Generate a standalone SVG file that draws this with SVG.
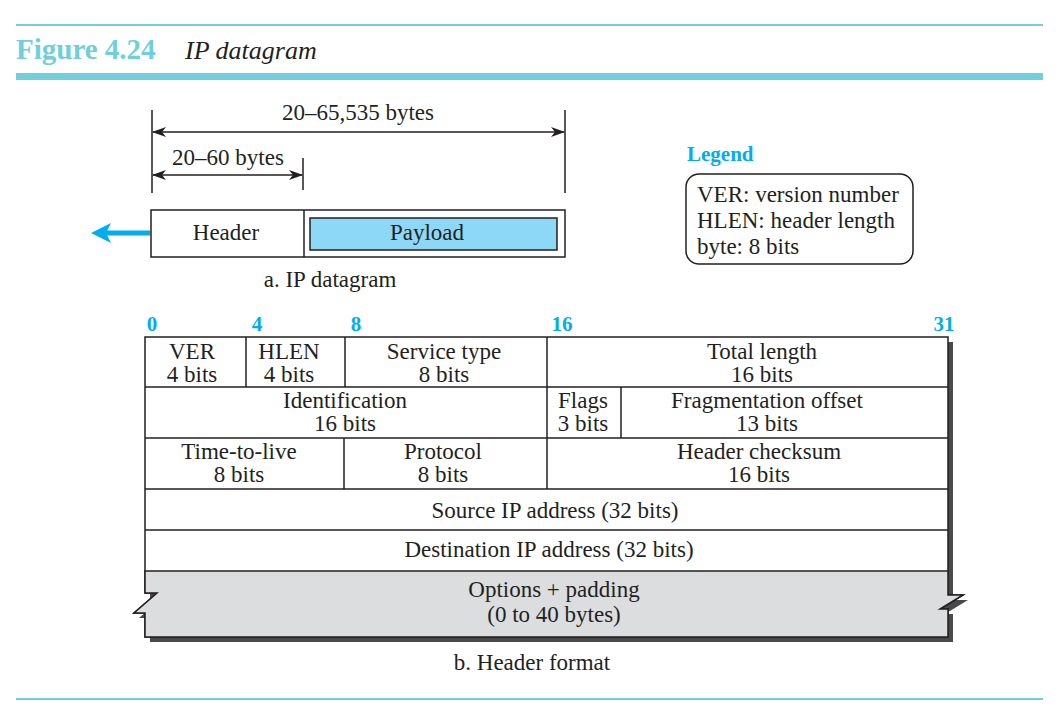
<svg xmlns="http://www.w3.org/2000/svg" width="1062" height="716" viewBox="0 0 1062 716">
<style>
text{font-family:"Liberation Serif","Times New Roman",serif;fill:#231f20;font-size:23px}
.c{text-anchor:middle}
.bit{font-weight:bold;fill:#00aeef;font-size:21px;text-anchor:middle}
.ln{stroke:#231f20;stroke-width:1.5;fill:none}
.w{fill:#fff}
.teal{fill:#6fcfda}
</style>
<defs>
<marker id="ah" viewBox="0 0 14 10" refX="13" refY="5" markerWidth="14" markerHeight="10" markerUnits="userSpaceOnUse" orient="auto-start-reverse">
<path d="M0,0 L14,5 L0,10 L4,5 Z" fill="#231f20"/>
</marker>
</defs>
<g id="frame">
<rect x="16" y="24" width="1027" height="2" class="teal"/>
<rect x="16" y="73" width="1027" height="7" class="teal"/>
<rect x="16" y="698" width="1027" height="2" class="teal"/>
<text x="16" y="59" style="font-weight:bold;font-size:29px;fill:#6fcfda">Figure 4.24</text>
<text x="185" y="59" style="font-style:italic;font-size:26px">IP datagram</text>
</g>
<g id="connectors">
<line class="ln" x1="152" y1="110" x2="152" y2="193"/>
<line class="ln" x1="303" y1="158" x2="303" y2="190"/>
<line class="ln" x1="565" y1="110" x2="565" y2="193"/>
<line class="ln" x1="153" y1="132" x2="564" y2="132" marker-start="url(#ah)" marker-end="url(#ah)"/>
<line class="ln" x1="153" y1="175" x2="302" y2="175" marker-start="url(#ah)" marker-end="url(#ah)"/>
<line x1="150" y1="233" x2="105" y2="233" stroke="#00aeef" stroke-width="5"/>
<path d="M91,233 L111,223 L106,233 L111,243 Z" fill="#00aeef"/>
</g>
<g id="datagram">
<rect x="151" y="210" width="414" height="47" class="ln" style="fill:#fff"/>
<line class="ln" x1="304" y1="210" x2="304" y2="257"/>
<rect x="310" y="218" width="247" height="32" class="ln" style="fill:#8dd7f7"/>
<text class="c" x="226" y="240">Header</text>
<text class="c" x="427" y="240">Payload</text>
<text class="c" x="330" y="287">a. IP datagram</text>
<text class="c" x="358" y="120">20–65,535 bytes</text>
<text class="c" x="228" y="165">20–60 bytes</text>
</g>
<g id="legend">
<text x="687" y="161" style="font-weight:bold;fill:#00aeef;font-size:21px">Legend</text>
<rect x="686" y="174" width="227" height="90" rx="13" class="ln" style="fill:#fff"/>
<text x="697" y="202">VER: version number</text>
<text x="697" y="228">HLEN: header length</text>
<text x="697" y="254">byte: 8 bits</text>
</g>
<g id="bits">
<text class="bit" x="152" y="331">0</text>
<text class="bit" x="257" y="331">4</text>
<text class="bit" x="356" y="331">8</text>
<text class="bit" x="562" y="331">16</text>
<text class="bit" x="944" y="331">31</text>
</g>
<g id="header-table">
<path d="M150,342 H953 V600 H968 L945,614 H953 V642 H150 V618 H139 L162,598 H150 Z" style="fill:#4a4a4a"/>
<path d="M145,337 H948 V595 H963 L940,609 H948 V637 H145 V613 H134 L157,593 H145 Z" class="ln" style="fill:#fff"/>
<path d="M145,571 H948 V595 H963 L940,609 H948 V637 H145 V613 H134 L157,593 H145 Z" class="ln" style="fill:#dcdddf"/>
<line class="ln" x1="145" y1="387" x2="948" y2="387"/>
<line class="ln" x1="145" y1="438" x2="948" y2="438"/>
<line class="ln" x1="145" y1="489" x2="948" y2="489"/>
<line class="ln" x1="145" y1="530" x2="948" y2="530"/>
<line class="ln" x1="246" y1="337" x2="246" y2="387"/>
<line class="ln" x1="345" y1="337" x2="345" y2="387"/>
<line class="ln" x1="547" y1="337" x2="547" y2="489"/>
<line class="ln" x1="621" y1="387" x2="621" y2="438"/>
<line class="ln" x1="344" y1="438" x2="344" y2="489"/>
</g>
<g id="fields">
<text class="c" x="192" y="359">VER</text><text class="c" x="192" y="382">4 bits</text>
<text class="c" x="289" y="359">HLEN</text><text class="c" x="289" y="382">4 bits</text>
<text class="c" x="444" y="359">Service type</text><text class="c" x="444" y="382">8 bits</text>
<text class="c" x="762" y="359">Total length</text><text class="c" x="762" y="382">16 bits</text>
<text class="c" x="345" y="408">Identification</text><text class="c" x="345" y="431">16 bits</text>
<text class="c" x="583" y="408">Flags</text><text class="c" x="583" y="431">3 bits</text>
<text class="c" x="767" y="408">Fragmentation offset</text><text class="c" x="767" y="431">13 bits</text>
<text class="c" x="239" y="459">Time-to-live</text><text class="c" x="239" y="482">8 bits</text>
<text class="c" x="443" y="459">Protocol</text><text class="c" x="443" y="482">8 bits</text>
<text class="c" x="759" y="459">Header checksum</text><text class="c" x="759" y="482">16 bits</text>
<text class="c" x="555" y="518">Source IP address (32 bits)</text>
<text class="c" x="549" y="557">Destination IP address (32 bits)</text>
<text class="c" x="554" y="597">Options + padding</text>
<text class="c" x="554" y="622">(0 to 40 bytes)</text>
<text class="c" x="532" y="670">b. Header format</text>
</g>
</svg>
